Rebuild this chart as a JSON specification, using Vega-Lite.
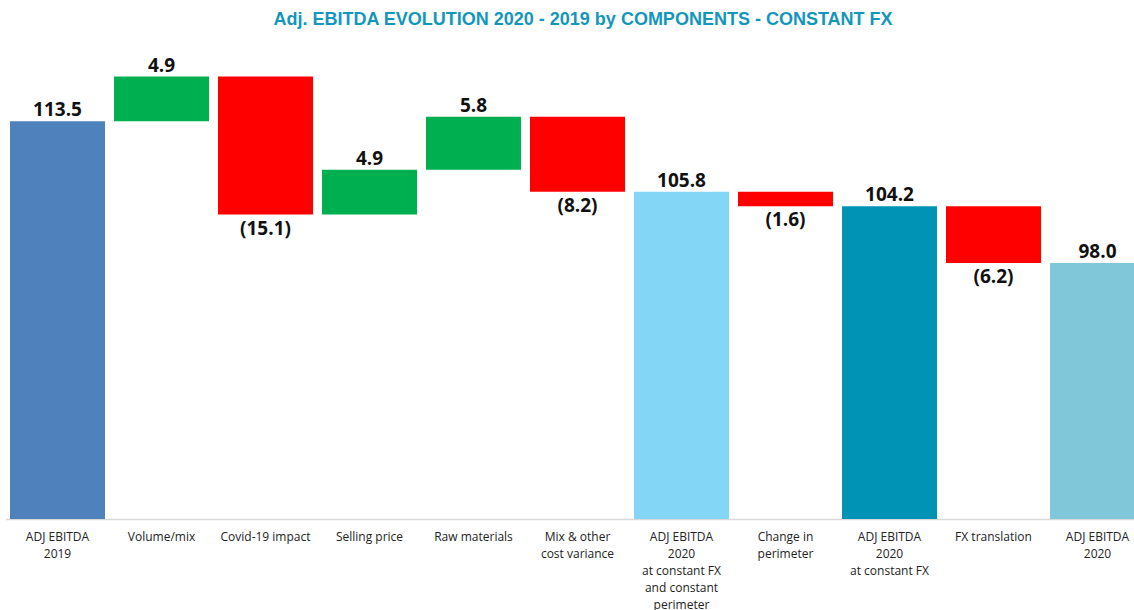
{
  "$schema": "https://vega.github.io/schema/vega-lite/v6.json",
  "width": 1134,
  "height": 479,
  "autosize": {"type": "none"},
  "padding": {"top": 40, "left": 0, "right": 0, "bottom": 91},
  "background": "white",
  "title": {
    "text": "Adj. EBITDA EVOLUTION 2020 - 2019 by COMPONENTS - CONSTANT FX",
    "font": "Liberation Sans",
    "fontSize": 18,
    "fontWeight": "bold",
    "color": "#1396bd",
    "anchor": "middle",
    "dx": 16,
    "offset": 11
  },
  "config": {"view": {"stroke": null}},
  "data": {
    "values": [
      {"label": "ADJ EBITDA|2019", "start": 0, "end": 113.5, "amount": 113.5, "kind": "total2019"},
      {"label": "Volume/mix", "start": 113.5, "end": 118.4, "amount": 4.9, "kind": "up"},
      {"label": "Covid-19 impact", "start": 118.4, "end": 103.3, "amount": -15.1, "kind": "down"},
      {"label": "Selling price", "start": 103.3, "end": 108.2, "amount": 4.9, "kind": "up"},
      {"label": "Raw materials", "start": 108.2, "end": 114.0, "amount": 5.8, "kind": "up"},
      {"label": "Mix & other|cost variance", "start": 114.0, "end": 105.8, "amount": -8.2, "kind": "down"},
      {"label": "ADJ EBITDA|2020|at constant FX|and constant|perimeter", "start": 0, "end": 105.8, "amount": 105.8, "kind": "totalFXP"},
      {"label": "Change in|perimeter", "start": 105.8, "end": 104.2, "amount": -1.6, "kind": "down"},
      {"label": "ADJ EBITDA|2020|at constant FX", "start": 0, "end": 104.2, "amount": 104.2, "kind": "totalFX"},
      {"label": "FX translation", "start": 104.2, "end": 98.0, "amount": -6.2, "kind": "down"},
      {"label": "ADJ EBITDA|2020", "start": 0, "end": 98.0, "amount": 98.0, "kind": "total2020"}
    ]
  },
  "transform": [
    {"calculate": "max(datum.start, datum.end)", "as": "hi"},
    {"calculate": "min(datum.start, datum.end)", "as": "lo"},
    {"calculate": "datum.amount < 0 ? '(' + format(-datum.amount, '.1f') + ')' : format(datum.amount, '.1f')", "as": "txt"}
  ],
  "encoding": {
    "x": {
      "field": "label",
      "type": "nominal",
      "sort": null,
      "scale": {"range": [5.5, 1149.5], "paddingInner": 0.0865, "paddingOuter": 0.0433},
      "axis": {
        "title": null,
        "labelAngle": 0,
        "labelExpr": "split(datum.label, '|')",
        "labelFont": "Open Sans",
        "labelFontSize": 12,
        "labelColor": "#222222",
        "labelLineHeight": 17,
        "labelPadding": 12,
        "labelLimit": 200,
        "ticks": false,
        "domainColor": "#d9d9d9",
        "domainWidth": 1.5,
        "grid": false
      }
    }
  },
  "layer": [
    {
      "mark": {"type": "bar", "clip": true},
      "encoding": {
        "y": {"field": "start", "type": "quantitative", "scale": {"domain": [70, 122.4], "nice": false, "zero": false}, "axis": null},
        "y2": {"field": "end"},
        "color": {
          "field": "kind",
          "type": "nominal",
          "legend": null,
          "scale": {
            "domain": ["total2019", "up", "down", "totalFXP", "totalFX", "total2020"],
            "range": ["#4f81bd", "#00b050", "#ff0000", "#84d6f7", "#0093b6", "#80c7d9"]
          }
        }
      }
    },
    {
      "transform": [{"filter": "datum.amount >= 0"}],
      "mark": {"type": "text", "baseline": "alphabetic", "dy": -5, "font": "Open Sans", "fontSize": 19, "fontWeight": "bold", "color": "#111111"},
      "encoding": {
        "y": {"field": "hi", "type": "quantitative"},
        "text": {"field": "txt"}
      }
    },
    {
      "transform": [{"filter": "datum.amount < 0"}],
      "mark": {"type": "text", "baseline": "top", "dy": 5, "font": "Open Sans", "fontSize": 19, "fontWeight": "bold", "color": "#111111"},
      "encoding": {
        "y": {"field": "lo", "type": "quantitative"},
        "text": {"field": "txt"}
      }
    }
  ]
}
